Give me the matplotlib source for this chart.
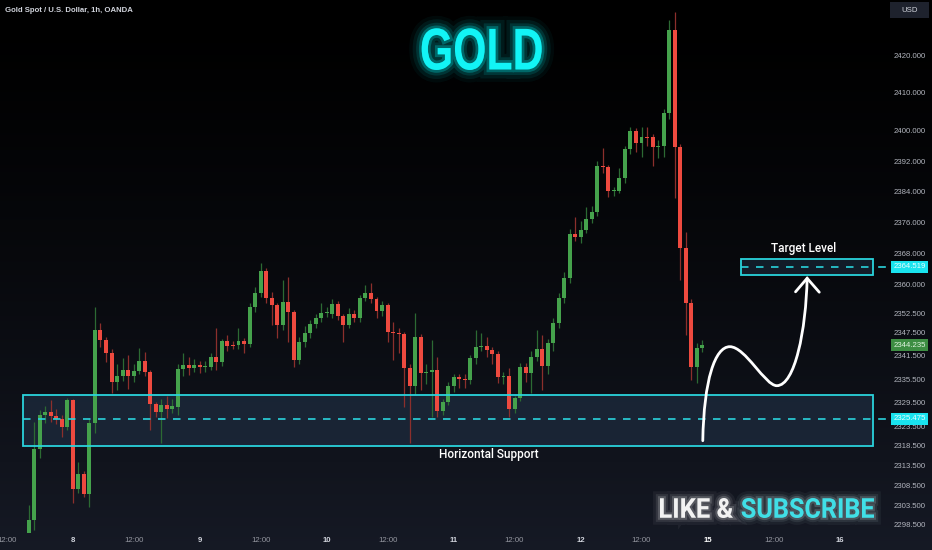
import numpy as np
import matplotlib
matplotlib.use("Agg")
import matplotlib.pyplot as plt
import matplotlib.patheffects as pe
from matplotlib.path import Path
from matplotlib.patches import PathPatch, Rectangle
from matplotlib.textpath import TextPath
from matplotlib.font_manager import FontProperties
from matplotlib.transforms import Affine2D, blended_transform_factory
from matplotlib.ticker import FixedLocator, FixedFormatter, NullLocator

W, H = 932, 550

# Gold spot 1h candles, Fri 5 Apr afternoon -> Fri 12 Apr close
opens = [2296.0, 2299.8, 2317.7, 2326.3, 2327.1, 2326.1, 2325.4, 2323.3, 2330.2, 2307.55,
         2311.35, 2306.25, 2324.4, 2348.15, 2345.55, 2342.25, 2334.85, 2336.3, 2337.9, 2336.3,
         2337.6, 2340.2, 2337.4, 2329.2, 2327.1, 2328.9, 2327.9, 2328.4, 2338.1, 2339.2,
         2338.4, 2339.2, 2338.6, 2338.6, 2341.25, 2339.9, 2345.35, 2344.25, 2344.25, 2345.35,
         2344.55, 2354.1, 2357.7, 2363.4, 2356.4, 2354.6, 2349.45, 2355.3, 2352.8, 2340.45,
         2345.05, 2347.35, 2349.75, 2351.2, 2352.5, 2352.2, 2354.8, 2351.7, 2349.45, 2352.2,
         2351.2, 2356.4, 2357.7, 2356.1, 2353.0, 2354.6, 2347.65, 2347.35, 2347.15, 2338.4,
         2333.75, 2346.35, 2337.1, 2337.4, 2337.9, 2327.4, 2329.7, 2333.75, 2336.1, 2335.55,
         2335.3, 2340.95, 2343.75, 2344.05, 2342.95, 2341.95, 2336.1, 2336.3, 2327.9, 2330.7,
         2338.6, 2337.1, 2341.25, 2343.25, 2338.9, 2344.75, 2349.95, 2356.4, 2361.6, 2372.95,
         2372.15, 2374.05, 2376.85, 2378.65, 2390.7, 2390.5, 2384.15, 2384.15, 2387.55, 2395.15,
         2400.0, 2396.75, 2398.25, 2398.25, 2395.65, 2395.95, 2404.6, 2426.6, 2395.65, 2369.3,
         2355.1, 2338.6, 2343.5]
highs = [2303.6, 2324.6, 2327.6, 2328.7, 2330.2, 2327.9, 2326.4, 2330.6, 2330.4, 2314.45,
         2312.15, 2325.5, 2354.1, 2349.95, 2346.25, 2343.25, 2339.3, 2340.95, 2341.75, 2339.3,
         2343.55, 2342.45, 2337.9, 2329.7, 2330.4, 2331.35, 2330.4, 2339.3, 2342.25, 2341.25,
         2340.75, 2340.3, 2340.3, 2342.25, 2348.65, 2345.75, 2346.85, 2345.25, 2348.65, 2346.05,
         2355.2, 2359.2, 2365.4, 2364.2, 2357.9, 2355.2, 2361.0, 2361.8, 2353.2, 2346.25,
         2349.25, 2350.7, 2352.2, 2355.1, 2354.2, 2356.2, 2355.7, 2352.2, 2353.7, 2353.2,
         2357.2, 2359.7, 2360.3, 2356.7, 2355.7, 2355.2, 2350.25, 2348.75, 2347.75, 2339.3,
         2352.5, 2347.25, 2339.3, 2345.55, 2341.25, 2330.4, 2334.85, 2336.8, 2336.8, 2336.8,
         2341.75, 2348.15, 2347.35, 2346.25, 2343.75, 2342.75, 2337.3, 2338.4, 2331.35, 2339.8,
         2339.8, 2342.75, 2348.05, 2346.85, 2345.75, 2351.2, 2357.7, 2363.2, 2374.25, 2377.35,
         2376.25, 2379.95, 2380.25, 2391.95, 2395.45, 2390.9, 2385.35, 2390.2, 2395.95, 2401.1,
         2400.6, 2401.1, 2401.0, 2399.1, 2397.45, 2405.6, 2429.3, 2431.35, 2396.45, 2373.45,
         2356.2, 2344.75, 2345.55]
lows = [2295.5, 2297.2, 2315.45, 2324.4, 2324.5, 2324.0, 2320.7, 2322.5, 2304.1, 2306.55,
        2305.55, 2303.1, 2321.8, 2343.75, 2339.9, 2331.95, 2332.75, 2335.15, 2333.05, 2334.85,
        2336.8, 2336.3, 2322.6, 2325.9, 2319.3, 2325.6, 2326.9, 2326.4, 2336.3, 2336.6,
        2337.3, 2337.1, 2337.3, 2337.8, 2337.8, 2338.8, 2342.75, 2343.25, 2343.25, 2342.25,
        2343.75, 2352.7, 2356.7, 2355.2, 2349.45, 2346.05, 2348.15, 2345.05, 2338.6, 2339.3,
        2343.75, 2346.05, 2348.75, 2350.25, 2351.5, 2351.2, 2350.75, 2345.05, 2348.75, 2350.25,
        2350.25, 2355.7, 2355.2, 2351.2, 2351.7, 2345.05, 2340.45, 2342.25, 2328.5, 2319.2,
        2331.85, 2332.75, 2334.35, 2325.9, 2325.9, 2326.4, 2328.9, 2332.35, 2333.35, 2333.35,
        2334.35, 2339.3, 2342.75, 2341.25, 2339.3, 2334.55, 2334.35, 2325.9, 2326.9, 2329.9,
        2334.85, 2331.95, 2340.3, 2332.75, 2336.8, 2342.75, 2348.75, 2355.2, 2360.2, 2371.25,
        2370.7, 2373.25, 2375.75, 2377.75, 2388.85, 2382.65, 2382.85, 2383.65, 2386.35, 2393.95,
        2394.45, 2393.05, 2395.95, 2390.7, 2392.85, 2393.05, 2403.1, 2382.35, 2361.0, 2346.85,
        2335.3, 2334.55, 2342.5]
closes = [2299.8, 2317.7, 2326.3, 2327.1, 2326.1, 2325.4, 2323.3, 2330.2, 2307.55, 2311.35,
          2306.25, 2324.4, 2348.15, 2345.55, 2342.25, 2334.85, 2336.3, 2337.9, 2336.3, 2337.6,
          2340.2, 2337.4, 2329.2, 2327.1, 2328.9, 2327.9, 2328.7, 2338.1, 2339.2, 2338.4,
          2339.2, 2338.6, 2338.9, 2341.25, 2339.9, 2345.35, 2344.05, 2344.05, 2345.35, 2344.55,
          2354.1, 2357.7, 2363.4, 2356.4, 2354.6, 2349.45, 2355.3, 2352.8, 2340.45, 2345.05,
          2347.35, 2349.75, 2351.2, 2352.5, 2352.7, 2354.8, 2351.7, 2349.45, 2352.2, 2351.2,
          2356.4, 2357.7, 2356.1, 2353.0, 2354.6, 2347.65, 2347.35, 2347.15, 2338.4, 2333.75,
          2346.35, 2337.1, 2337.4, 2337.9, 2327.4, 2329.7, 2333.75, 2336.1, 2335.55, 2335.3,
          2340.95, 2343.75, 2344.05, 2342.95, 2341.95, 2336.1, 2336.3, 2327.9, 2330.7, 2338.6,
          2337.1, 2341.25, 2343.25, 2338.9, 2344.75, 2349.95, 2356.4, 2361.6, 2372.95, 2372.15,
          2374.05, 2376.85, 2378.65, 2390.7, 2390.5, 2384.15, 2384.45, 2387.55, 2395.15, 2400.0,
          2396.75, 2398.25, 2398.05, 2395.65, 2395.95, 2404.6, 2426.6, 2395.65, 2369.3, 2355.1,
          2338.6, 2343.5, 2344.235]

# time axis labels (bar index)
xtick_pos = [-4, 8, 19, 31, 42, 54, 65, 77, 88, 100, 111, 123, 135, 147]
xtick_lab = ["12:00", "8", "12:00", "9", "12:00", "10", "12:00", "11",
             "12:00", "12", "12:00", "15", "12:00", "16"]

# price scale labels
price_ticks = [2298.5, 2303.5, 2308.5, 2313.5, 2318.5, 2323.5, 2329.5, 2335.5,
               2341.5, 2347.5, 2352.5, 2360, 2368, 2376, 2384, 2392, 2400, 2410, 2420]

# drawn levels
support_low, support_high = 2318.36, 2331.49
support_level = 2325.475
target_low, target_high = 2362.35, 2366.5
target_level = 2364.519
last_price = 2344.235

# projected move (bezier: start, peak, dip, target) + arrow head
move_x = [122.1, 122.3, 124.3, 127.0, 129.8, 133.4, 135.5, 138.8, 140.8, 141.0]
move_y = [2319.83, 2335.3, 2343.86, 2343.86, 2343.86, 2333.86, 2333.86, 2333.86, 2348.2, 2361.5]
head_x = [138.9, 141.0, 143.2]
head_y = [2358.0, 2361.5, 2357.9]

GREEN = "#45a24c"
RED = "#ee4a3f"
CYAN = "#2ad3dc"

fig = plt.figure(figsize=(W / 100, H / 100), dpi=100)

# background gradient
bg = fig.add_axes([0, 0, 1, 1], zorder=-5)
t = np.linspace(0, 1, 256) ** 1.4
grad = np.zeros((256, 1, 3))
grad[:, 0, 0] = 0.085 * t
grad[:, 0, 1] = 0.100 * t
grad[:, 0, 2] = 0.145 * t
bg.imshow(grad, aspect="auto", extent=[0, 1, 0, 1], origin="upper")
bg.set_axis_off()

ax = fig.add_axes([0, 17 / H, 880 / W, 533 / H])
ax.set_facecolor("none")

x = np.arange(len(opens))
o = np.array(opens)
c = np.array(closes)
up = c >= o
cols = np.where(up, GREEN, RED)
wick_cols = np.where(up, "#2c6a33", "#8c2f2c")

# wicks
ax.vlines(x, lows, highs, colors=wick_cols, lw=0.9, zorder=2)
# bodies
body = np.maximum(np.abs(c - o), 0.28)
ax.bar(x, body, bottom=np.minimum(o, c), width=0.72, color=cols, lw=0, zorder=3)

ax.set_yscale("log")
ax.set_xlim(-5.2, 154.2)
ax.set_ylim(2296.48, 2434.64)

# support zone
ax.add_patch(Rectangle((-1.1, support_low), 154.1, support_high - support_low,
                       facecolor="#1d2b3e", alpha=0.75, edgecolor="none", zorder=1))
ax.add_patch(Rectangle((-1.1, support_low), 154.1, support_high - support_low,
                       facecolor="none", edgecolor=CYAN, lw=1.3, zorder=4))
ax.plot([-1.1, 153.0], [support_level] * 2, color=CYAN, lw=1.2,
        dashes=(4.5, 4.5), zorder=4)

# target zone
ax.add_patch(Rectangle((129.0, target_low), 24.0, target_high - target_low,
                       facecolor="#16222f", alpha=0.8, edgecolor="none", zorder=1))
ax.add_patch(Rectangle((129.0, target_low), 24.0, target_high - target_low,
                       facecolor="none", edgecolor=CYAN, lw=1.3, zorder=4))
ax.plot([129.0, 153.0], [target_level] * 2, color=CYAN, lw=1.2,
        dashes=(4.5, 4.5), zorder=4)

# projected move
verts = list(zip(move_x, move_y))
codes = [Path.MOVETO] + [Path.CURVE4] * 9
ax.add_patch(PathPatch(Path(verts, codes), facecolor="none", edgecolor="white",
                       lw=2.0, capstyle="round", zorder=5))
ax.plot(head_x, head_y, color="white", lw=2.0, solid_capstyle="round",
        solid_joinstyle="miter", zorder=5)

ax.text(140.45, 2369.1, "Target Level", color="white", fontsize=8.5,
        family="Roboto", weight="medium", ha="center", va="center", zorder=6)
ax.text(83.4, 2316.2, "Horizontal Support", color="white", fontsize=8.5,
        family="Roboto", weight="medium", ha="center", va="center", zorder=6)

# axes styling
for s in ax.spines.values():
    s.set_visible(False)
ax.yaxis.tick_right()
ax.yaxis.set_major_locator(FixedLocator(price_ticks))
ax.yaxis.set_major_formatter(FixedFormatter([f"{p:.3f}" for p in price_ticks]))
ax.yaxis.set_minor_locator(NullLocator())
ax.tick_params(axis="y", length=0, pad=10, labelsize=5.6, labelcolor="#b2b5be")
for lab in ax.get_yticklabels():
    lab.set_family("Liberation Sans")

ax.set_xticks(xtick_pos)
ax.set_xticklabels(xtick_lab)
ax.tick_params(axis="x", length=0, pad=3, labelsize=5.6, labelcolor="#9598a1")
for lab, s in zip(ax.get_xticklabels(), xtick_lab):
    lab.set_family("Liberation Sans")
    if ":" not in s:
        lab.set_color("white" if s == "15" else "#d1d4dc")
        lab.set_weight("bold")

# price tags on the scale
blend = blended_transform_factory(ax.transAxes, ax.transData)
for lvl, fc, tc in [(target_level, "#19e3ee", "#e9fdff"),
                    (support_level, "#19e3ee", "#e9fdff"),
                    (last_price, "#3d8d42", "#dff3df")]:
    ax.text(1.0335, lvl, f"{lvl:.3f}", transform=blend, ha="center", va="center",
            fontsize=5.6, family="Liberation Sans", color=tc, clip_on=False, zorder=8,
            bbox=dict(boxstyle="square,pad=0.32", fc=fc, ec="none"))
for lvl in (target_level, support_level):
    ax.plot([879 / 880, 885 / 880], [lvl, lvl], transform=blend, color=CYAN,
            lw=1.2, clip_on=False, zorder=8)

# header
fig.text(5 / W, 1 - 11 / H, "Gold Spot / U.S. Dollar, 1h, OANDA", fontsize=5.6,
         family="Liberation Sans", weight="bold", color="#d1d4dc", va="center")
fig.add_artist(Rectangle((890 / W, 1 - 18 / H), 39 / W, 16 / H, transform=fig.transFigure,
                         facecolor="#1e222d", edgecolor="none"))
fig.text(909.5 / W, 1 - 10 / H, "USD", fontsize=5.6, family="Liberation Sans",
         color="#d1d4dc", ha="center", va="center")


def fitted_text(s, box, color, family, glow, effects):
    tp = TextPath((0, 0), s, size=100, prop=FontProperties(family=family, weight="bold"))
    ext = tp.get_extents()
    x0, y0, x1, y1 = box
    tr = (Affine2D().translate(-ext.x0, -ext.y0)
          .scale((x1 - x0) / ext.width, (y1 - y0) / ext.height)
          .translate(x0, H - y1).scale(1 / W, 1 / H))
    patch = PathPatch(tr.transform_path(tp), transform=fig.transFigure,
                      facecolor=color, edgecolor="none")
    pes = [pe.Stroke(linewidth=lw, foreground=glow, alpha=a) for lw, a in effects]
    patch.set_path_effects(pes + [pe.Normal()])
    fig.add_artist(patch)


fitted_text("GOLD", (421.7, 28.3, 541.7, 70.0), "#12f4f6", "Liberation Sans", "#00ffff",
            [(18, 0.04), (13, 0.07), (8, 0.12), (4, 0.25)])
fitted_text("LIKE &", (660, 498, 733, 518), "#f2f2f2", "Roboto", "#ffffff",
            [(10, 0.05), (6, 0.09), (3, 0.18)])
fitted_text("SUBSCRIBE", (741.7, 498, 874, 518), "#40dfe6", "Roboto", "#cfeff0",
            [(10, 0.05), (6, 0.09), (3, 0.18)])

fig.savefig("out.png", dpi=100)
